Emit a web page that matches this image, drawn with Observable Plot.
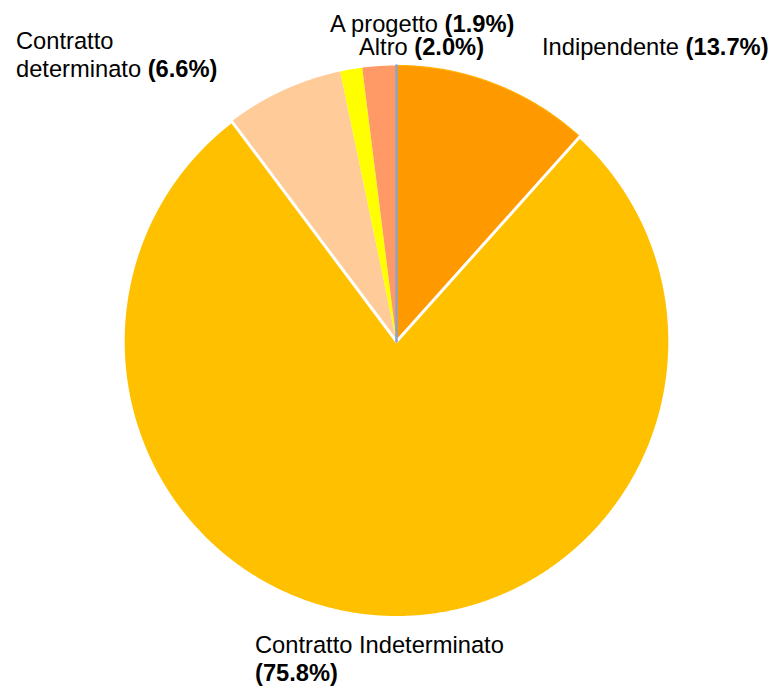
<!DOCTYPE html>
<html><head><meta charset="utf-8">
<script src="https://cdn.jsdelivr.net/npm/d3@7"></script>
<script src="https://cdn.jsdelivr.net/npm/@observablehq/plot@0.6"></script>
<style>
body{margin:0;background:#fff}
#chart{position:relative;width:773px;height:688px}
</style>
</head><body><div id="chart"></div>
<script>
// ---- data ----
const categories = ["Indipendente", "Contratto Indeterminato", "Contratto determinato", "A progetto", "Altro"];
// slice sizes as drawn in the picture (share of the circle, %)
const sliceShares = [11.7, 78.0, 7.0, 1.3, 2.0];
// percentages printed in the labels
const labelPercents = [13.7, 75.8, 6.6, 1.9, 2.0];
const colors = ["#FF9900", "#FFC000", "#FFCC99", "#FFFF00", "#FF9966"];

// ---- label layout (pixel anchors, left aligned, baseline of first line) ----
const labelX = [542, 255, 16, 330, 359];
const labelY = [55, 653, 49, 32, 55];
const labelSplit = ["none", "pctBelow", "afterFirstWord", "none", "none"];
const lineHeight = 28.3;
const fontSize = 23.7;

// ---- geometry from data ----
const arcs = d3.pie().sort(null).value(d => d)(sliceShares);
const slices = arcs.map((p, i) => {
  const n = Math.max(4, Math.ceil((p.endAngle - p.startAngle) / 0.005));
  const pts = [{x: 0, y: 0}];
  for (let k = 0; k <= n; k++) {
    const a = p.startAngle + (p.endAngle - p.startAngle) * k / n;
    pts.push({x: Math.sin(a), y: Math.cos(a)});
  }
  return {i, pts};
});

const sliceStroke = ["#FFB000", "white", "none", "none", "none"];
const sliceStrokeWidth = [1.2, 3, 0, 0, 0];
// draw the big slice last so its white border shows
const drawOrder = [0, 2, 3, 4, 1];

const marks = drawOrder.map(i => Plot.line(slices[i].pts, {
  x: "x", y: "y", curve: "linear-closed",
  fill: colors[i], stroke: sliceStroke[i], strokeWidth: sliceStrokeWidth[i],
  strokeLinejoin: "round"
}));
const a0 = arcs[0].startAngle;
marks.push(Plot.line([{x: 0, y: 0}, {x: Math.sin(a0), y: Math.cos(a0)}], {
  x: "x", y: "y", stroke: "#8FA2C9", strokeWidth: 2.5
}));

const svg = Plot.plot({
  width: 773, height: 688,
  marginLeft: 122.7, marginRight: 103.7, marginTop: 65, marginBottom: 71,
  x: {domain: [-1, 1], axis: null},
  y: {domain: [-1, 1], axis: null},
  style: {background: "white"},
  marks
});

// ---- labels (real text, normal name + bold percentage) ----
const sel = d3.select(svg);
categories.forEach((name, i) => {
  const pct = `(${labelPercents[i].toFixed(1)}%)`;
  let lines;
  if (labelSplit[i] === "afterFirstWord") {
    const sp = name.indexOf(" ");
    lines = [[{t: name.slice(0, sp), b: false}], [{t: name.slice(sp + 1) + " ", b: false}, {t: pct, b: true}]];
  } else if (labelSplit[i] === "pctBelow") {
    lines = [[{t: name, b: false}], [{t: pct, b: true}]];
  } else {
    lines = [[{t: name + " ", b: false}, {t: pct, b: true}]];
  }
  lines.forEach((segs, li) => {
    const text = sel.append("text")
      .attr("x", labelX[i])
      .attr("y", labelY[i] + li * lineHeight)
      .attr("text-anchor", "start")
      .attr("font-family", "'Liberation Sans', Arial, sans-serif")
      .attr("font-size", fontSize)
      .attr("fill", "#000")
      .style("white-space", "pre");
    segs.forEach(s => text.append("tspan").attr("font-weight", s.b ? "bold" : "normal").text(s.t));
  });
});

document.getElementById("chart").appendChild(svg);
</script>
</body></html>
